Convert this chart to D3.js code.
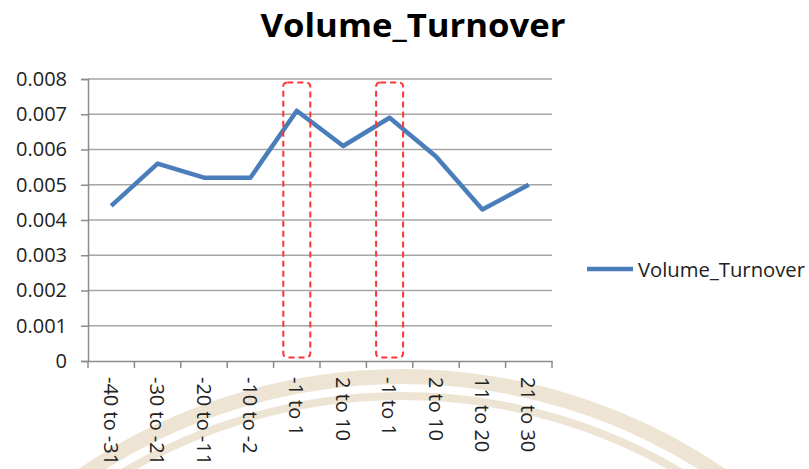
<!DOCTYPE html>
<html>
<head>
<meta charset="utf-8">
<script src="https://cdn.jsdelivr.net/npm/d3@7"></script>
<style>
  body { margin: 0; background: #fff; }
  svg { display: block; font-family: "Open Sans", sans-serif; }
</style>
</head>
<body>
<svg id="chart"></svg>
<script>

// Data
var categories = ["-40 to -31", "-30 to -21", "-20 to -11", "-10 to -2", "-1 to 1",
                  "2 to 10", "-1 to 1", "2 to 10", "11 to 20", "21 to 30"];
var turnover = [0.0044, 0.0056, 0.0052, 0.0052, 0.0071, 0.0061, 0.0069, 0.0058, 0.0043, 0.0050];
var yTicks = [0, 0.001, 0.002, 0.003, 0.004, 0.005, 0.006, 0.007, 0.008];
var highlighted = [4, 6];          // categories boxed in red
var seriesName = "Volume_Turnover";

var svgwidth = 809, svgheight = 469;
var margin = {top: 79, left: 88, right: 257, bottom: 108};
var width = svgwidth - margin.left - margin.right;
var height = svgheight - margin.top - margin.bottom;

var svg = d3.select("#chart")
    .attr("width", svgwidth)
    .attr("height", svgheight);

// faint watermark seal behind the chart
var seal = svg.append("g").attr("transform", "translate(402,943)");
seal.append("path")
    .attr("d", d3.arc()({innerRadius: 559, outerRadius: 574, startAngle: -1.2, endAngle: 1.2}))
    .attr("fill", "#ede4d4");
seal.append("path")
    .attr("d", d3.arc()({innerRadius: 543, outerRadius: 551, startAngle: -1.2, endAngle: 1.2}))
    .attr("fill", "#ede4d4");

// title
svg.append("text")
    .attr("x", 413)
    .attr("y", 37)
    .attr("text-anchor", "middle")
    .attr("font-size", 32)
    .attr("font-weight", "bold")
    .attr("textLength", 305)
    .attr("lengthAdjust", "spacingAndGlyphs")
    .attr("fill", "#000")
    .text(seriesName);

var g = svg.append("g")
    .attr("transform", "translate(" + margin.left + "," + margin.top + ")");

// scales
var xScale = d3.scaleBand().domain(d3.range(categories.length)).range([0, width]);
var yScale = d3.scaleLinear().domain([0, 0.008]).range([height, 0]);

// gridlines
g.selectAll(".grid")
    .data(yTicks.slice(1))
    .enter()
    .append("line")
    .attr("class", "grid")
    .attr("x1", 0)
    .attr("x2", width)
    .attr("y1", function(d){ return yScale(d); })
    .attr("y2", function(d){ return yScale(d); })
    .attr("stroke", "#a6a6a6")
    .attr("stroke-width", 1.5);

// y axis
var yAxis = d3.axisLeft(yScale)
    .tickValues(yTicks)
    .tickSize(7)
    .tickPadding(14)
    .tickFormat(function(d){ return d === 0 ? "0" : d3.format(".3f")(d); });

var yG = g.append("g").attr("class", "yAxis").call(yAxis);
yG.select(".domain").attr("stroke", "#8c8c8c").attr("stroke-width", 1.5);
yG.selectAll(".tick line").attr("stroke", "#8c8c8c").attr("stroke-width", 1.5);
yG.selectAll(".tick text").attr("font-size", 20).attr("fill", "#222")
    .attr("font-family", "Open Sans");

// x axis with ticks on band edges
var xAxis = d3.axisBottom(xScale)
    .tickSize(0)
    .tickFormat(function(i){ return categories[i]; });

var xG = g.append("g")
    .attr("class", "xAxis")
    .attr("transform", "translate(0," + height + ")")
    .call(xAxis);
xG.select(".domain").attr("stroke", "#8c8c8c").attr("stroke-width", 1.5);
xG.selectAll(".tick text")
    .attr("font-size", 20)
    .attr("fill", "#222")
    .attr("font-family", "Open Sans")
    .attr("text-anchor", "start")
    .attr("dy", null)
    .attr("dominant-baseline", "central")
    .attr("transform", "translate(0,16) rotate(90)")
    .attr("y", 0)
    .attr("x", 0);

xG.selectAll(".edge")
    .data(d3.range(categories.length + 1))
    .enter()
    .append("line")
    .attr("class", "edge")
    .attr("x1", function(i){ return i * xScale.step(); })
    .attr("x2", function(i){ return i * xScale.step(); })
    .attr("y1", 0)
    .attr("y2", 7)
    .attr("stroke", "#8c8c8c")
    .attr("stroke-width", 1.5);

// series line
var line = d3.line()
    .x(function(d, i){ return xScale(i) + xScale.bandwidth() / 2; })
    .y(function(d){ return yScale(d); });

g.append("path")
    .datum(turnover)
    .attr("d", line)
    .attr("fill", "none")
    .attr("stroke", "#4a7ebb")
    .attr("stroke-width", 4.5)
    .attr("stroke-linejoin", "round");

// red dashed highlight boxes
var boxWidth = 27;
g.selectAll(".hl")
    .data(highlighted)
    .enter()
    .append("rect")
    .attr("class", "hl")
    .attr("x", function(i){ return xScale(i) + xScale.bandwidth() / 2 - boxWidth / 2; })
    .attr("y", yScale(0.0079))
    .attr("width", boxWidth)
    .attr("height", yScale(0.0001) - yScale(0.0079))
    .attr("rx", 4)
    .attr("fill", "none")
    .attr("stroke", "#ff3333")
    .attr("stroke-width", 2)
    .attr("stroke-dasharray", "6,4");

// legend
var legend = svg.append("g").attr("transform", "translate(587,269)");
legend.append("line")
    .attr("x1", 0).attr("x2", 46)
    .attr("y1", 0).attr("y2", 0)
    .attr("stroke", "#4a7ebb")
    .attr("stroke-width", 4.5);
legend.append("text")
    .attr("x", 51)
    .attr("y", 0)
    .attr("dominant-baseline", "central")
    .attr("font-size", 20)
    .attr("fill", "#222")
    .attr("textLength", 167)
    .attr("lengthAdjust", "spacingAndGlyphs")
    .text(seriesName);

</script>
</body>
</html>
